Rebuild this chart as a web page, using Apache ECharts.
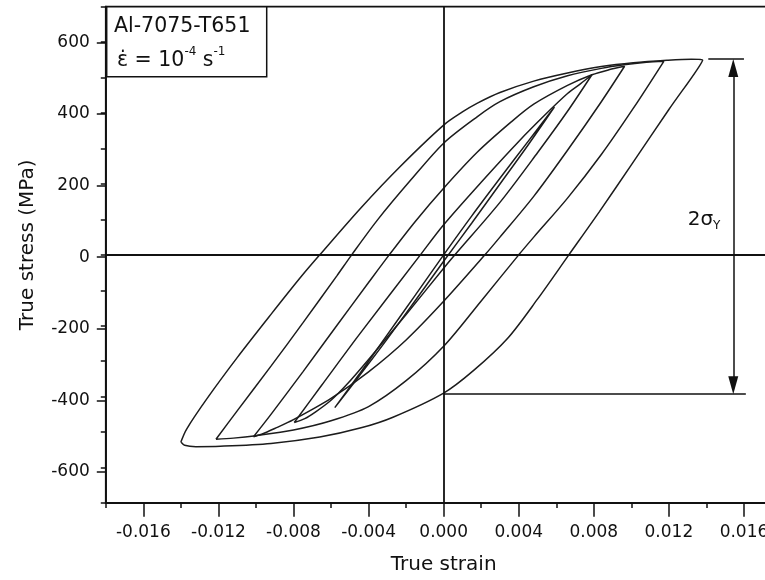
<!DOCTYPE html>
<html>
<head>
<meta charset="utf-8">
<script src="https://cdn.jsdelivr.net/npm/echarts@6/dist/echarts.min.js"></script>
<style>
  html, body { margin: 0; padding: 0; background: #fff; overflow: hidden; }
  #chart { width: 790px; height: 580px; }
</style>
</head>
<body>
<div id="chart"></div>
<script>
// Cyclic true stress-strain response of Al-7075-T651, strain rate 1e-4 1/s.
// Each loop: rising branch (compression tip -> tension tip), then falling branch back.

// Tick labels
const strainTickLabels = ['-0.016', '-0.012', '-0.008', '-0.004', '0.000', '0.004', '0.008', '0.012', '0.016'];
const stressTickLabels = ['-600', '-400', '-200', '0', '200', '400', '600'];

// Loop A (+/-0.006)
const loopA_up = [[-0.0058,-431],[-0.0045,-337],[-0.0030,-225],[-0.0015,-113],[0,0],[0.0015,110],[0.0030,216],[0.0045,320],[0.0059,417]];
const loopA_down = [[0.0059,417],[0.0045,310],[0.0030,200],[0.0015,90],[0,-18],[-0.0015,-128],[-0.0030,-237],[-0.0045,-342],[-0.0058,-431]];

// Loop B (+/-0.008)
const loopB_up = [[-0.00796,-473],[-0.0065,-368],[-0.0045,-225],[-0.00124,0],[0,85],[0.002,205],[0.004,320],[0.0055,400],[0.0066,455],[0.0073,483],[0.0079,508]];
const loopB_down = [[0.0079,508],[0.0066,405],[0.0050,288],[0.0030,148],[0.0006,0],[0,-38],[-0.002,-168],[-0.004,-295],[-0.0052,-368],[-0.0060,-410],[-0.0068,-442],[-0.0074,-462],[-0.00796,-473]];

// Loop C (+/-0.010)
const loopC_up = [[-0.01013,-513],[-0.0092,-450],[-0.0075,-330],[-0.0057,-200],[-0.0040,-78],[-0.0029,0],[-0.0015,95],[0,188],[0.0018,290],[0.0036,375],[0.0048,425],[0.0066,478],[0.0079,508],[0.0088,522],[0.00964,532]];
const loopC_down = [[0.00964,532],[0.0084,432],[0.0066,295],[0.0048,165],[0.0030,50],[0.0022,0],[0,-131],[-0.002,-240],[-0.004,-330],[-0.006,-405],[-0.008,-465],[-0.009,-490],[-0.0097,-506],[-0.01013,-513]];

// Loop D (+/-0.012)
const loopD_up = [[-0.01213,-520],[-0.0110,-440],[-0.0092,-314],[-0.0075,-192],[-0.0057,-60],[-0.0049,0],[-0.0035,100],[-0.0018,208],[0,315],[0.0018,390],[0.0030,432],[0.0048,474],[0.0066,505],[0.0084,526],[0.0096,536],[0.0108,543],[0.01173,546]];
const loopD_down = [[0.01173,546],[0.0101,413],[0.0084,283],[0.0066,160],[0.0048,50],[0.0040,0],[0.002,-130],[0,-258],[-0.002,-355],[-0.004,-428],[-0.006,-468],[-0.008,-494],[-0.010,-510],[-0.0112,-517],[-0.01213,-520]];

// Loop E (+/-0.014)
const loopE_up = [[-0.0140,-528],[-0.0137,-492],[-0.0126,-405],[-0.0110,-290],[-0.0092,-168],[-0.0076,-62],[-0.0066,0],[-0.0044,133],[-0.0023,250],[0,366],[0.0010,403],[0.0018,428],[0.0030,458],[0.0048,490],[0.0066,513],[0.0084,531],[0.0101,542],[0.0119,549],[0.0132,552],[0.0138,550]];
const loopE_down = [[0.0138,550],[0.0120,410],[0.0100,254],[0.0083,122],[0.00667,0],[0.0050,-125],[0.0034,-236],[0.0016,-326],[0,-390],[-0.0027,-458],[-0.0044,-488],[-0.0066,-514],[-0.0092,-532],[-0.0119,-540],[-0.0132,-541],[-0.0138,-537],[-0.0140,-528]];

// 2*sigma_Y span marker (stress at the top and bottom reference lines)
const spanStrain = 0.01543;
const spanTop = 552;
const spanBottom = -393;

const FONT = 'DejaVu Sans';
const INK = '#111';
const CURVE = '#1c1c1c';

// Full frame range and the labelled (major-tick) range
const X_RANGE = [-0.018, 0.018];
const Y_RANGE = [-700, 700];
const X_MAJOR = [-0.016, 0.016];
const Y_MAJOR = [-600, 600];

// The canvas is a little wider than the window so the frame's right edge sits just outside it.
const CHART_W = 790, CHART_H = 580;
const frame = { left: 105.8, right: 8.5, top: 6.7, bottom: 72.3 };
const plotW = CHART_W - frame.left - frame.right;
const plotH = CHART_H - frame.top - frame.bottom;
const pxX = v => frame.left + (v - X_RANGE[0]) / (X_RANGE[1] - X_RANGE[0]) * plotW;
const pxY = v => frame.top + (Y_RANGE[1] - v) / (Y_RANGE[1] - Y_RANGE[0]) * plotH;
// Second grid: same scale, bounded by the labelled ticks; its axes are pushed out onto the frame
const majorGrid = {
  left: pxX(X_MAJOR[0]),
  right: CHART_W - pxX(X_MAJOR[1]),
  top: pxY(Y_MAJOR[1]),
  bottom: CHART_H - pxY(Y_MAJOR[0])
};
const majorXOffset = (CHART_H - frame.bottom) - pxY(Y_MAJOR[0]);
const majorYOffset = pxX(X_MAJOR[0]) - frame.left;

const arrowLen = 18, arrowW = 10;
const arrowInset = arrowLen / 2 * (Y_RANGE[1] - Y_RANGE[0]) / plotH;

const loops = [
  ['A', loopA_up, loopA_down],
  ['B', loopB_up, loopB_down],
  ['C', loopC_up, loopC_down],
  ['D', loopD_up, loopD_down],
  ['E', loopE_up, loopE_down]
];

const loopSeries = loops.map(([name, up, down]) => ({
  name: 'Loop ' + name,
  type: 'line',
  xAxisIndex: 0,
  yAxisIndex: 0,
  data: up.concat(down.slice(1)),
  showSymbol: false,
  symbol: 'none',
  smooth: 0.3,
  lineStyle: { color: CURVE, width: 1.5 },
  silent: true,
  z: 3
}));

const axisLineStyle = { color: INK, width: 1.8 };
const tickLineStyle = { color: INK, width: 1.5 };

const option = {
  backgroundColor: '#fff',
  animation: false,
  grid: [
    Object.assign({ show: true, borderColor: INK, borderWidth: 1.8, backgroundColor: 'transparent' }, frame),
    Object.assign({ show: false }, majorGrid)
  ],
  xAxis: [
    {
      gridIndex: 0, type: 'value', min: X_RANGE[0], max: X_RANGE[1], interval: 0.002,
      axisLine: { show: true, onZero: false, lineStyle: axisLineStyle },
      axisTick: { show: true, length: 5, lineStyle: tickLineStyle },
      axisLabel: { show: false },
      splitLine: { show: false },
      name: 'True strain', nameLocation: 'middle', nameGap: 52,
      nameTextStyle: { fontFamily: FONT, fontSize: 20, color: INK }
    },
    {
      gridIndex: 1, type: 'value', min: X_MAJOR[0], max: X_MAJOR[1], interval: 0.004,
      position: 'bottom', offset: majorXOffset,
      axisLine: { show: false, onZero: false },
      axisTick: { show: true, length: 9, lineStyle: tickLineStyle },
      axisLabel: {
        show: true, margin: 16, fontFamily: FONT, fontSize: 17, color: INK,
        formatter: v => strainTickLabels[Math.round((v - X_MAJOR[0]) / 0.004)]
      },
      splitLine: { show: false }
    }
  ],
  yAxis: [
    {
      gridIndex: 0, type: 'value', min: Y_RANGE[0], max: Y_RANGE[1], interval: 100,
      axisLine: { show: true, onZero: false, lineStyle: axisLineStyle },
      axisTick: { show: true, length: 5, lineStyle: tickLineStyle },
      axisLabel: { show: false },
      splitLine: { show: false },
      name: 'True stress (MPa)', nameLocation: 'middle', nameGap: 68, nameRotate: 90,
      nameTextStyle: { fontFamily: FONT, fontSize: 20, color: INK, padding: [0, 0, 0, 20] }
    },
    {
      gridIndex: 1, type: 'value', min: Y_MAJOR[0], max: Y_MAJOR[1], interval: 200,
      position: 'left', offset: majorYOffset,
      axisLine: { show: false, onZero: false },
      axisTick: { show: true, length: 9, lineStyle: tickLineStyle },
      axisLabel: {
        show: true, margin: 16, fontFamily: FONT, fontSize: 17, color: INK,
        formatter: v => stressTickLabels[Math.round((v - Y_MAJOR[0]) / 200)]
      },
      splitLine: { show: false }
    }
  ],
  series: loopSeries.concat([
    {
      name: 'zero lines',
      type: 'line', xAxisIndex: 0, yAxisIndex: 0, data: [], silent: true,
      markLine: {
        silent: true, symbol: ['none', 'none'], label: { show: false },
        lineStyle: { color: INK, width: 1.8, type: 'solid' },
        data: [{ xAxis: 0 }, { yAxis: 0 }]
      },
      z: 2
    },
    {
      name: '2σY span',
      type: 'line', xAxisIndex: 0, yAxisIndex: 0, data: [], silent: true,
      markLine: {
        silent: true,
        symbol: ['triangle', 'triangle'],
        symbolSize: 12,
        label: { show: false },
        lineStyle: { color: INK, width: 1.5, type: 'solid' },
        itemStyle: { color: INK },
        data: [[
          { coord: [spanStrain, spanTop - arrowInset], symbol: 'triangle', symbolSize: [arrowW, arrowLen] },
          { coord: [spanStrain, spanBottom + arrowInset], symbol: 'triangle', symbolSize: [arrowW, arrowLen] }
        ]]
      },
      z: 4
    },
    {
      name: '2σY refs',
      type: 'line', xAxisIndex: 0, yAxisIndex: 0, data: [], silent: true,
      markLine: {
        silent: true, symbol: ['none', 'none'], label: { show: false },
        lineStyle: { color: INK, width: 1.5, type: 'solid' },
        data: [
          [{ coord: [0.0141, spanTop] }, { coord: [0.0160, spanTop] }],
          [{ coord: [0, spanBottom] }, { coord: [0.0161, spanBottom] }]
        ]
      },
      markPoint: {
        silent: true, symbol: 'circle', symbolSize: 0,
        label: {
          show: true, position: 'right', distance: 0,
          formatter: '{n|2σ}{s|Y}',
          rich: {
            n: { fontFamily: FONT, fontSize: 20, color: INK, lineHeight: 22, verticalAlign: 'top' },
            s: { fontFamily: FONT, fontSize: 12, color: INK, lineHeight: 12, verticalAlign: 'bottom' }
          }
        },
        data: [{ coord: [0.0130, 96] }]
      },
      z: 4
    }
  ]),
  graphic: [
    {
      type: 'rect', silent: true, z: 100,
      shape: { x: 106.7, y: 6.7, width: 160, height: 70 },
      style: { fill: '#fff', stroke: INK, lineWidth: 1.5 }
    },
    {
      type: 'text', silent: true, z: 101, x: 114, y: 16,
      style: { text: 'Al-7075-T651', font: '20.5px "DejaVu Sans"', fill: INK, verticalAlign: 'top' }
    },
    {
      type: 'text', silent: true, z: 101, x: 117, y: 46,
      style: {
        text: '{n|ε̇ = 10}{p|-4}{n| s}{p|-1}',
        fill: INK, verticalAlign: 'top',
        rich: {
          n: { fontFamily: FONT, fontSize: 20.5, fill: INK, lineHeight: 25, verticalAlign: 'bottom' },
          p: { fontFamily: FONT, fontSize: 12, fill: INK, lineHeight: 14, verticalAlign: 'top' }
        }
      }
    }
  ]
};

const chart = echarts.init(document.getElementById('chart'), null, { renderer: 'canvas', width: CHART_W, height: CHART_H });
chart.setOption(option);
</script>
</body>
</html>
